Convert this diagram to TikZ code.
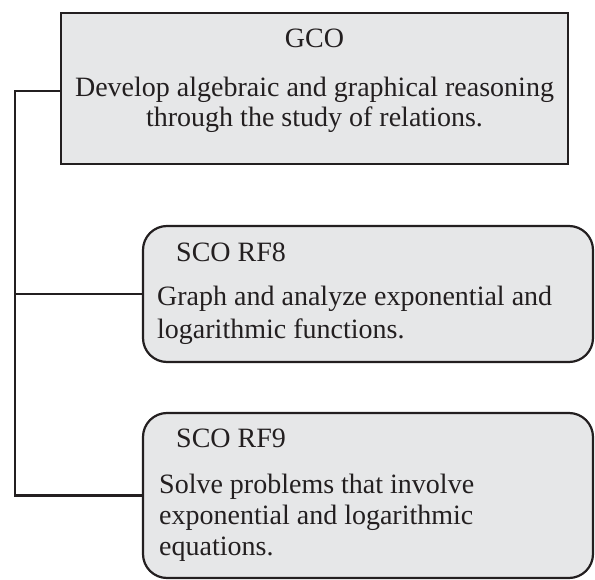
\documentclass[tikz,border=0pt]{standalone}
\usepackage{fontspec}
\setmainfont{Liberation Serif}
\definecolor{boxfill}{HTML}{E6E7E8}
\definecolor{ink}{HTML}{231F20}
\begin{document}
\begin{tikzpicture}[x=1pt,y=-1pt,
  box/.style={draw=ink, fill=boxfill, line width=2.2pt, inner sep=0pt, outer sep=0pt},
  conn/.style={draw=ink, line width=2.2pt},
  txt/.style={text=ink, font=\fontsize{28}{32}\selectfont, inner sep=0pt},
]
\useasboundingbox (0,0) rectangle (595,580);
\node[box, minimum width=507pt, minimum height=151pt, anchor=north west] (gco) at (61,13) {};
\node[box, rounded corners=24pt, minimum width=450pt, minimum height=136pt, anchor=north west] (rf8) at (143,226) {};
\node[box, rounded corners=24pt, minimum width=450pt, minimum height=165pt, anchor=north west] (rf9) at (143,413) {};
\coordinate (spine) at (15,91);
\draw[conn] (spine -| gco.west) -- (spine) |- (rf9.west);
\draw[conn] (spine |- rf8.west) -- (rf8.west);
% texts
\node[txt, anchor=base] (gcot) at (314.5,48) {GCO};
\node[txt, anchor=base] (gcol1) at (314.5,97) {Develop algebraic and graphical reasoning};
\node[txt, anchor=base] (gcol2) at (314.5,127) {through the study of relations.};
\node[txt, anchor=base west] (rf8t) at (176,262) {SCO RF8};
\node[txt, anchor=base west] (rf8l1) at (157,306) {Graph and analyze exponential and};
\node[txt, anchor=base west] (rf8l2) at (157,338) {logarithmic functions.};
\node[txt, anchor=base west] (rf9t) at (176,447) {SCO RF9};
\node[txt, anchor=base west] (rf9l1) at (159,493) {Solve problems that involve};
\node[txt, anchor=base west] (rf9l2) at (159,524) {exponential and logarithmic};
\node[txt, anchor=base west] (rf9l3) at (159,555) {equations.};
\end{tikzpicture}
\end{document}
